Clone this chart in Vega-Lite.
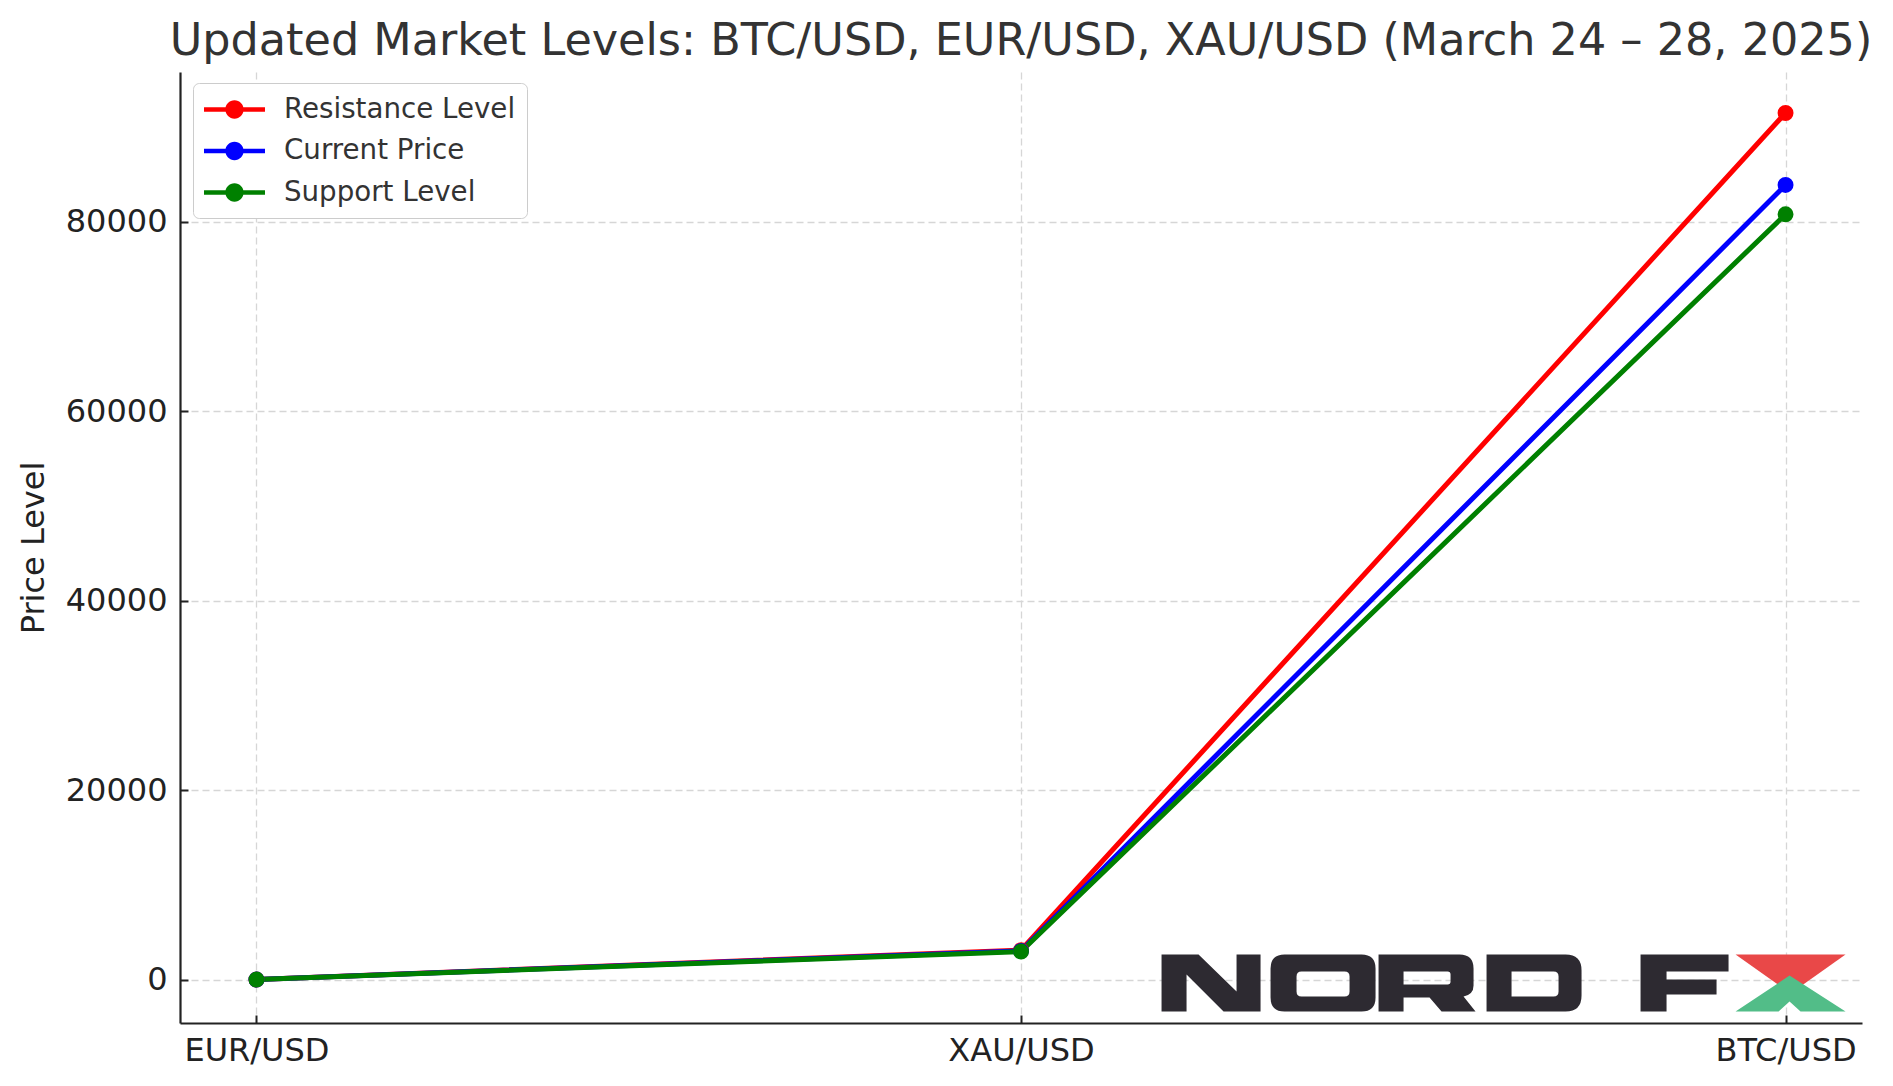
{
  "$schema": "https://vega.github.io/schema/vega-lite/v6.json",
  "width": 1682,
  "height": 951,
  "autosize": {"type": "none"},
  "padding": {"left": 180, "top": 72, "right": 31, "bottom": 63},
  "background": "white",
  "title": {
    "text": "Updated Market Levels: BTC/USD, EUR/USD, XAU/USD (March 24 – 28, 2025)",
    "font": "DejaVu Sans",
    "fontSize": 44.5,
    "fontWeight": "normal",
    "color": "#333333",
    "anchor": "middle",
    "baseline": "bottom",
    "offset": -36
  },
  "config": {
    "view": {"stroke": null},
    "axis": {
      "labelFont": "DejaVu Sans",
      "titleFont": "DejaVu Sans",
      "labelFontSize": 32,
      "titleFontSize": 32,
      "labelColor": "#222222",
      "titleColor": "#222222",
      "titleFontWeight": "normal",
      "domainColor": "#222222",
      "domainWidth": 2.2,
      "tickColor": "#222222",
      "tickWidth": 2,
      "tickSize": -8,
      "grid": true,
      "gridColor": "#d6d6d6",
      "gridDash": [7, 4],
      "gridWidth": 1.3
    },
    "legend": {
      "orient": "none",
      "legendX": 13,
      "legendY": 11,
      "labelFont": "DejaVu Sans",
      "labelFontSize": 27.7,
      "labelColor": "#333333",
      "labelLimit": 500,
      "symbolType": "M-2,-0.14 L2,-0.14 L2,0.14 L-2,0.14 Z M0.6,0 A0.6,0.6 0 1,1 -0.6,0 A0.6,0.6 0 1,1 0.6,0 Z",
      "symbolSize": 930,
      "symbolStrokeWidth": 0,
      "symbolOffset": 15,
      "labelOffset": 34,
      "rowPadding": 11.5,
      "padding": 11,
      "fillColor": "white",
      "strokeColor": "#cccccc",
      "cornerRadius": 6
    }
  },
  "datasets": {
    "levels": [
      {"pair": "EUR/USD", "level": "Resistance Level", "value": 1.09},
      {"pair": "XAU/USD", "level": "Resistance Level", "value": 3100},
      {"pair": "BTC/USD", "level": "Resistance Level", "value": 91500},
      {"pair": "EUR/USD", "level": "Current Price", "value": 1.08},
      {"pair": "XAU/USD", "level": "Current Price", "value": 3020},
      {"pair": "BTC/USD", "level": "Current Price", "value": 83900},
      {"pair": "EUR/USD", "level": "Support Level", "value": 1.07},
      {"pair": "XAU/USD", "level": "Support Level", "value": 2950},
      {"pair": "BTC/USD", "level": "Support Level", "value": 80800}
    ],
    "logo": [{"brand": "NORD FX"}]
  },
  "layer": [
    {
      "data": {"name": "levels"},
      "mark": {"type": "line", "strokeWidth": 5},
      "encoding": {
        "x": {
          "field": "pair", "type": "ordinal",
          "scale": {"type": "point", "domain": ["EUR/USD", "XAU/USD", "BTC/USD"], "padding": 0.1},
          "axis": {"title": null, "labelAngle": 0, "labelPadding": 20}
        },
        "y": {
          "field": "value", "type": "quantitative",
          "scale": {"domain": [-4590, 95830], "nice": false, "zero": false},
          "axis": {"title": "Price Level", "values": [0, 20000, 40000, 60000, 80000], "format": "d", "labelPadding": 21, "titlePadding": 15}
        },
        "color": {
          "field": "level", "type": "nominal",
          "scale": {"domain": ["Resistance Level", "Current Price", "Support Level"], "range": ["#ff0000", "#0000ff", "#008000"]},
          "legend": {"title": null}
        }
      }
    },
    {
      "data": {"name": "levels"},
      "mark": {"type": "point", "filled": true, "size": 254, "opacity": 1},
      "encoding": {
        "x": {"field": "pair", "type": "ordinal"},
        "y": {"field": "value", "type": "quantitative"},
        "color": {"field": "level", "type": "nominal", "legend": {"title": null}}
      }
    },
    {
      "data": {"name": "logo"},
      "mark": {
        "type": "point", "size": 4, "filled": true, "opacity": 1, "color": "#2d2a31", "strokeWidth": 0,
        "shape": "M-624,-25 L-587,-25 L-549,12 L-549,-25 L-525,-25 L-525,32 L-562,32 L-599,-5 L-599,32 L-624,32 Z M-501,-25 L-424,-25 Q-410,-25 -410,-11 L-410,18 Q-410,32 -424,32 L-501,32 Q-515,32 -515,18 L-515,-11 Q-515,-25 -501,-25 Z M-484,-8 Q-489,-8 -489,-3 L-489,12 Q-489,17 -484,17 L-441,17 Q-436,17 -436,12 L-436,-3 Q-436,-8 -441,-8 Z M-407,-25 L-326,-25 Q-312,-25 -312,-11 L-312,6 Q-312,15 -322,17 L-310,32 L-344,32 L-356,18 L-382,18 L-382,32 L-407,32 Z M-382,-8 L-382,5 L-338,5 Q-335,5 -335,2 L-335,-5 Q-335,-8 -338,-8 Z M-299,-25 L-220,-25 Q-204,-25 -204,-9 L-204,16 Q-204,32 -220,32 L-299,32 Z M-274,-8 L-274,17 L-232,17 Q-227,17 -227,12 L-227,-3 Q-227,-8 -232,-8 Z M-145,-25 L-57,-25 L-57,-8 L-119,-8 L-119,0 L-69,0 L-69,15 L-119,15 L-119,32 L-145,32 Z"
      },
      "encoding": {
        "x": {"datum": "BTC/USD", "type": "ordinal"},
        "y": {"datum": 0, "type": "quantitative"}
      }
    },
    {
      "data": {"name": "logo"},
      "mark": {
        "type": "point", "size": 4, "filled": true, "opacity": 1, "color": "#e94848", "strokeWidth": 0,
        "shape": "M-50,-25 L60,-25 L5,14 Z"
      },
      "encoding": {
        "x": {"datum": "BTC/USD", "type": "ordinal"},
        "y": {"datum": 0, "type": "quantitative"}
      }
    },
    {
      "data": {"name": "logo"},
      "mark": {
        "type": "point", "size": 4, "filled": true, "opacity": 1, "color": "#52bd88", "strokeWidth": 0,
        "shape": "M4,-4 L60,32 L15,32 L4,22 L-7,32 L-50,32 Z"
      },
      "encoding": {
        "x": {"datum": "BTC/USD", "type": "ordinal"},
        "y": {"datum": 0, "type": "quantitative"}
      }
    }
  ]
}
